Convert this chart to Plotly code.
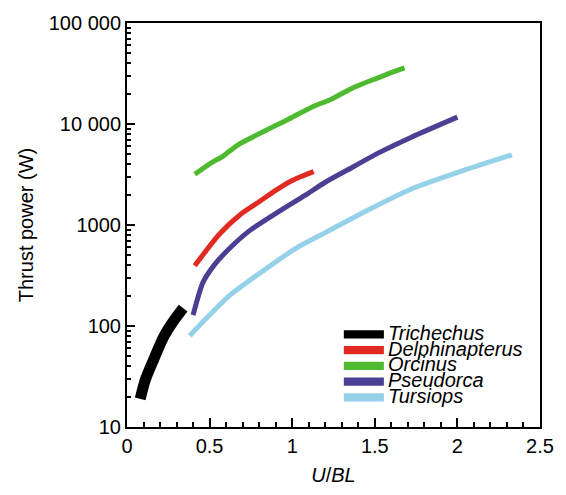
import plotly.graph_objects as go

# Swimming speed (body lengths per second) and thrust power (W) for each species
trichechus_u = [0.08, 0.11, 0.16, 0.22, 0.28, 0.34]
trichechus_p = [19, 29, 46, 77, 111, 150]

delphinapterus_u = [0.41, 0.48, 0.56, 0.69, 0.80, 0.90, 0.98, 1.05, 1.13]
delphinapterus_p = [395, 560, 815, 1285, 1700, 2200, 2650, 3000, 3380]

orcinus_u = [0.41, 0.51, 0.58, 0.67, 0.80, 0.90, 0.98, 1.13, 1.23, 1.36, 1.48, 1.58, 1.68]
orcinus_p = [3180, 4130, 4790, 6190, 8000, 9650, 11200, 15000, 17400, 22500, 27100, 31400, 35900]

pseudorca_u = [0.40, 0.46, 0.53, 0.62, 0.74, 0.92, 1.08, 1.20, 1.36, 1.52, 1.725, 2.0]
pseudorca_p = [128, 270, 405, 585, 875, 1365, 1975, 2650, 3690, 5150, 7450, 11700]

tursiops_u = [0.38, 0.48, 0.62, 0.82, 1.02, 1.22, 1.48, 1.725, 2.03, 2.33]
tursiops_p = [80, 119, 200, 348, 585, 875, 1465, 2285, 3435, 4950]

species = ["Trichechus", "Delphinapterus", "Orcinus", "Pseudorca", "Tursiops"]
colors = ["#000000", "#e02a22", "#4fba2f", "#4a3f92", "#96d1ea"]
widths = [11, 5, 5, 5, 5]
series_u = [trichechus_u, delphinapterus_u, orcinus_u, pseudorca_u, tursiops_u]
series_p = [trichechus_p, delphinapterus_p, orcinus_p, pseudorca_p, tursiops_p]

FONT = "Liberation Sans, Arial, Helvetica, sans-serif"

fig = go.Figure()
for name, u, p, c, w in zip(species, series_u, series_p, colors, widths):
    fig.add_trace(go.Scatter(
        x=u, y=p, mode="lines", name=name,
        line=dict(color=c, width=w, shape="spline", smoothing=0.7),
        showlegend=False,
    ))

# Key in the lower right: coloured bars with italic species names
shapes = []
annotations = []
row_top = 0.229
row_step = 0.0389
bar_half = 0.0102
for i, (name, c) in enumerate(zip(species, colors)):
    yc = row_top - i * row_step
    shapes.append(dict(
        type="rect", xref="paper", yref="paper",
        x0=0.525, x1=0.622, y0=yc - bar_half, y1=yc + bar_half,
        fillcolor=c, line=dict(width=0),
    ))
    annotations.append(dict(
        xref="paper", yref="paper", x=0.628, y=yc + 0.004,
        xanchor="left", yanchor="middle", showarrow=False,
        text=f"<i>{name}</i>", font=dict(family=FONT, size=20, color="black"),
    ))

fig.update_layout(
    width=566, height=495,
    margin=dict(l=127, r=24, t=16, b=63),
    paper_bgcolor="white", plot_bgcolor="white",
    font=dict(family=FONT, color="black"),
    separators=". ",
    shapes=shapes,
    annotations=annotations,
    xaxis=dict(
        showline=True, linecolor="black", linewidth=2, mirror=True,
        range=[0, 2.5], tick0=0, dtick=0.5,
        ticks="inside", ticklen=9, tickwidth=2, tickcolor="black",
        tickfont=dict(family=FONT, size=20, color="black"),
        minor=dict(ticks="inside", ticklen=5, tickwidth=2, tickcolor="black",
                   dtick=0.1),
        title=dict(text="<i>U</i>/<i>BL</i>", font=dict(family=FONT, size=20),
                   standoff=12),
    ),
    yaxis=dict(
        showline=True, linecolor="black", linewidth=2, mirror=True,
        type="log", range=[1, 5], dtick=1, exponentformat="none",
        ticks="inside", ticklen=8, tickwidth=2, tickcolor="black",
        tickfont=dict(family=FONT, size=20, color="black"),
        minor=dict(ticks="inside", ticklen=4, tickwidth=2, tickcolor="black",
                   dtick="D1"),
        title=dict(text="Thrust power (W)", font=dict(family=FONT, size=20),
                   standoff=10),
    ),
)
# hide gridlines after the tick settings so they do not interfere
fig.update_xaxes(showgrid=False, zeroline=False)
fig.update_yaxes(showgrid=False, zeroline=False)

fig.write_html("out.html")
